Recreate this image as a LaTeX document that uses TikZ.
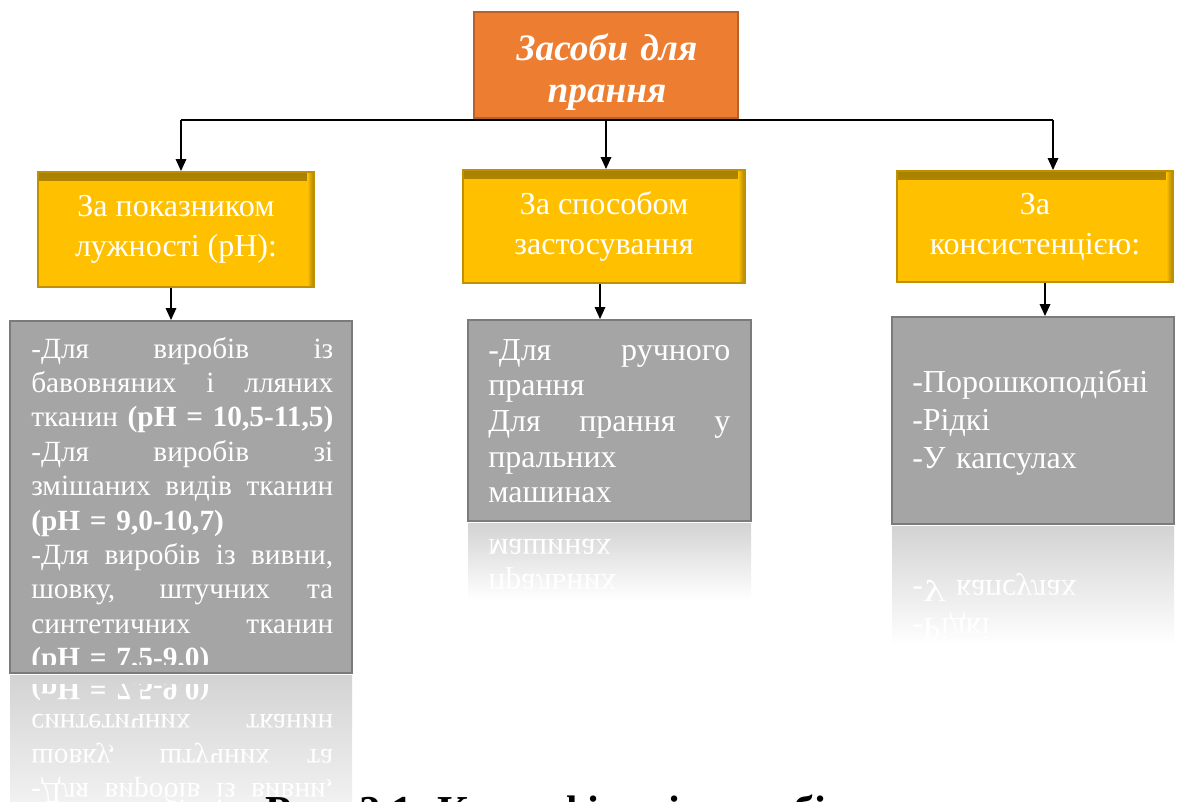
\documentclass[tikz,border=0pt]{standalone}
\usepackage{fontspec}
\setmainfont{Liberation Serif}
\usetikzlibrary{arrows.meta,calc}
\definecolor{ofill}{HTML}{ED7D31}
\definecolor{obord}{HTML}{B9612A}
\definecolor{yfill}{HTML}{FFC000}
\definecolor{ybord}{HTML}{BF9000}
\definecolor{yshad}{HTML}{A88000}
\definecolor{gfill}{HTML}{A5A5A5}
\definecolor{gbord}{HTML}{7B7B7B}
\definecolor{refl}{HTML}{D3D3D3}
\newcommand\jl[2]{\leavevmode\hbox to #1{\spaceskip=0pt\xspaceskip=0pt\relax #2}}
\newcommand\mytxtL{\jl{226.5pt}{-Для виробів із}\\
\jl{226.5pt}{бавовняних і лляних}\\
\jl{226.5pt}{тканин \textbf{(pH = 10,5-11,5)}}\\
\jl{226.5pt}{-Для виробів зі}\\
\jl{226.5pt}{змішаних видів тканин}\\
\textbf{(pH = 9,0-10,7)}\\
\jl{226.5pt}{-Для виробів із вивни,}\\
\jl{226.5pt}{шовку, штучних та}\\
\jl{226.5pt}{синтетичних тканин}\\
\textbf{(pH = 7,5-9,0)}}
\newcommand\mytxtM{\jl{181.5pt}{-Для ручного}\\
прання\\
\jl{181.5pt}{Для прання у}\\
пральних\\
машинах}
\newcommand\mytxtR{-Порошкоподібні\\
-Рідкі\\
-У капсулах}
\tikzset{
  topbox/.style={draw=obord, line width=1.2pt, fill=ofill, inner sep=0pt},
  toptext/.style={text=white, align=center, inner sep=0pt, anchor=base,
    font=\fontsize{28}{31.5}\selectfont\bfseries\itshape},
  ybox/.style={draw=ybord, line width=1.5pt, fill=yfill, text=white, align=center, inner sep=0pt,
    font=\fontsize{24}{30}\selectfont,
    path picture={
      \shade[top color=yshad, bottom color=yfill] (path picture bounding box.north west) rectangle ([yshift=-6pt]path picture bounding box.north east);
      \shade[left color=yfill, right color=yshad] ([xshift=-5pt]path picture bounding box.north east) rectangle (path picture bounding box.south east);
    }},
  gbox/.style={draw=gbord, line width=1.5pt, fill=gfill, inner sep=0pt},
  gtext/.style={text=white, inner sep=0pt, anchor=base west},
  arr/.style={-{Triangle[length=9pt,width=8pt]}, line width=0.9pt},
  link/.style={line width=0.8pt},
}
\begin{document}
\begin{tikzpicture}[x=0.75pt,y=-0.75pt]
\useasboundingbox (0,0) rectangle (1177,801);
\clip (0,0) rectangle (1177,801);
\fill[white] (0,0) rectangle (1177,801);

% top
\node[topbox, minimum width=264*0.75pt, minimum height=106*0.75pt] (top) at (606,65) {};
\node[toptext, text width=260*0.75pt] (topt) at (607,60) {Засоби для\\прання};

% category boxes
\node[ybox, minimum width=276*0.75pt, minimum height=115*0.75pt] (yL) at (176,229.5) {За показником\\лужності (pH):};
\node[ybox, minimum width=282*0.75pt, minimum height=113*0.75pt] (yM) at (604,226.5) {За способом\\застосування};
\node[ybox, minimum width=276*0.75pt, minimum height=111*0.75pt] (yR) at (1035,226.5) {За\\консистенцією:};

% gray boxes
\node[gbox, minimum width=342*0.75pt, minimum height=352*0.75pt] (gL) at (181,497) {};
\node[gbox, minimum width=283*0.75pt, minimum height=201*0.75pt] (gM) at (609.5,420.5) {};
\node[gbox, minimum width=282*0.75pt, minimum height=207*0.75pt] (gR) at (1033,420.5) {};

\begin{scope}
  \clip (12,323) rectangle (350,664);
  \node[gtext, text width=226.5pt, font=\fontsize{22}{25.8}\selectfont] (gLt) at (31,358) {\mytxtL};
\end{scope}
\node[gtext, text width=181.5pt, font=\fontsize{24}{26.8}\selectfont] (gMt) at (488,360) {\mytxtM};
\node[gtext, text width=200pt, font=\fontsize{24}{28.5}\selectfont] (gRt) at (912,392) {\mytxtR};

% connectors
\coordinate (hl) at (181,120);
\coordinate (hr) at (1053,120);
\draw[link] (hl) -- (hr);
\draw[arr] (hl) -- (hl |- yL.north);
\draw[arr] (top.south) -- (top.south |- yM.north);
\draw[arr] (hr) -- (hr |- yR.north);
\coordinate (aL) at ([xshift=-3.75pt]yL.south);
\coordinate (aM) at ([xshift=-3pt]yM.south);
\coordinate (aR) at ([xshift=7.5pt]yR.south);
\draw[arr] (aL) -- (aL |- gL.north);
\draw[arr] (aM) -- (aM |- gM.north);
\draw[arr] (aR) -- (aR |- gR.north);

% reflections
\begin{scope}
  \clip (10,675) rectangle (352,801);
  \shade[top color=refl, bottom color=white] (10,675) rectangle (352,860);
  \begin{scope}[cm={1,0,0,-1,(0,1348)}, transform shape]
    \clip (12,323) rectangle (350,664);
    \node[gtext, text width=226.5pt, font=\fontsize{22}{25.8}\selectfont] (gLr) at (31,358) {\mytxtL};
  \end{scope}
\end{scope}
\begin{scope}
  \clip (468,523) rectangle (751,600);
  \shade[top color=refl, bottom color=white] (468,523) rectangle (751,600);
  \begin{scope}[cm={1,0,0,-1,(0,1042)}, transform shape]
    \node[gtext, text width=181.5pt, font=\fontsize{24}{26.8}\selectfont] (gMr) at (488,360) {\mytxtM};
  \end{scope}
\end{scope}
\begin{scope}
  \clip (892,526) rectangle (1174,645);
  \shade[top color=refl, bottom color=white] (892,526) rectangle (1174,645);
  \begin{scope}[cm={1,0,0,-1,(0,1048)}, transform shape]
    \node[gtext, text width=200pt, font=\fontsize{24}{28.5}\selectfont] (gRr) at (912,392) {\mytxtR};
  \end{scope}
\end{scope}

% caption (cut by the lower edge)
\node[anchor=base west, inner sep=0pt, font=\fontsize{32}{36}\selectfont\bfseries] (cap) at (265,825) {Рис. 2.1. Класифікація засобів};
\end{tikzpicture}
\end{document}
